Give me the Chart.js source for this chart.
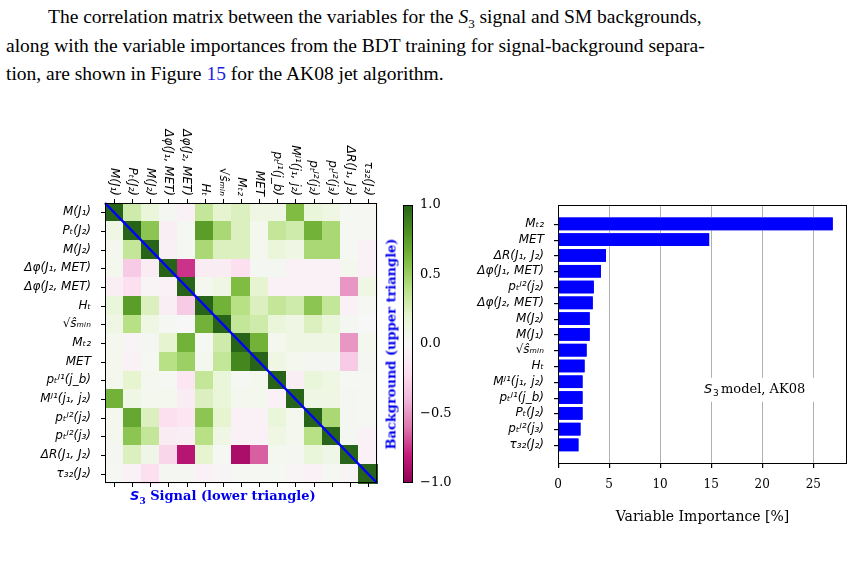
<!DOCTYPE html>
<html><head><meta charset="utf-8">
<script src="https://cdn.jsdelivr.net/npm/chart.js@4"></script>
<style>
body{margin:0;width:868px;height:587px;background:#fff;position:relative;overflow:hidden;font-family:"Liberation Serif",serif;}
.p{position:absolute;left:6px;font-size:19.5px;color:#000;white-space:nowrap;}
canvas{position:absolute;}
.lab{position:absolute;color:#0000ee;font-family:"DejaVu Serif",serif;font-weight:bold;font-size:13px;white-space:nowrap;}
#frame{position:absolute;border:1px solid #000;box-sizing:border-box;pointer-events:none;}
</style></head><body>
<div class="p" style="top:6px;left:48px">The correlation matrix between the variables for the <i>S</i><sub style="font-size:13px">3</sub> signal and SM backgrounds,</div>
<div class="p" style="top:35px">along with the variable importances from the BDT training for signal-background separa-</div>
<div class="p" style="top:63px">tion, are shown in Figure <span style="color:#2222dd">15</span> for the AK08 jet algorithm.</div>
<canvas id="hm" width="390" height="400" style="left:0;top:110px;width:390px;height:400px"></canvas>
<canvas id="cb" width="60" height="400" style="left:395px;top:110px;width:60px;height:400px"></canvas>
<canvas id="bar" width="413" height="330" style="left:455px;top:200px;width:413px;height:330px"></canvas>
<div id="frame"></div>
<div class="lab" style="left:130px;top:488px"><i style="font-family:'DejaVu Sans'">S</i><sub style="font-size:9px">3</sub> Signal (lower triangle)</div>
<div class="lab" style="left:391px;top:344px;transform:translate(-50%,-50%) rotate(-90deg)">Background (upper triangle)</div>
<script>
const varLabels=["M(J₁)","Pₜ(J₂)","M(J₂)","Δφ(J₁, MET)","Δφ(J₂, MET)","Hₜ","√ŝₘᵢₙ","Mₜ₂","MET","pₜᴶ¹(j_b)","Mᴶ¹(j₁, j₂)","pₜᴶ²(j₂)","pₜᴶ²(j₃)","ΔR(J₁, J₂)","τ₃₂(J₂)"];
const corr=[
[1,.3,.15,.03,-.05,.35,.2,.25,.1,.1,.6,.15,.1,.02,.02],
[.1,1,.55,-.08,.02,.75,.45,.25,.05,.35,.3,.65,.45,.02,.02],
[.05,.35,1,-.06,.02,.45,.25,.25,.05,.15,.1,.45,.45,.02,-.05],
[.05,-.3,-.1,1,-.75,-.1,-.1,-.2,.03,.03,-.05,-.05,-.05,.05,-.05],
[-.08,-.2,-.03,-.05,1,.05,.1,.6,.2,-.05,-.05,-.05,-.05,-.5,.1],
[.15,.75,.25,-.08,-.3,1,.65,.4,.25,.35,.3,.55,.35,-.05,.02],
[.1,.4,.1,.02,0,.65,1,.35,.3,.15,.1,.25,.15,.03,0],
[.05,-.03,.03,.2,.65,.02,.3,1,.65,.05,.1,.1,.1,-.5,.05],
[.05,-.05,.02,.4,.5,.05,.35,.85,1,.1,.05,.03,.03,-.3,.03],
[.05,.2,.05,.02,-.15,.35,.15,.02,.05,1,-.08,.15,.1,.02,.02],
[.65,.1,.05,.05,-.1,.25,.15,.05,.05,-.05,1,.1,.1,.03,.02],
[.05,.7,.25,-.2,-.15,.55,.2,-.05,-.05,.15,.05,1,.45,.03,.02],
[.05,.55,.35,-.1,-.08,.4,.1,-.05,-.05,.1,.05,.4,1,.03,-.05],
[.03,.25,.08,-.25,-.85,.2,.02,-.9,-.65,.05,.03,.15,.08,1,-.05],
[.02,-.05,-.2,.03,.03,-.05,-.03,.02,.02,.02,-.03,-.05,.02,-.03,1]];
const impLabels=["Mₜ₂","MET","ΔR(J₁, J₂)","Δφ(J₁, MET)","pₜᴶ²(j₂)","Δφ(J₂, MET)","M(J₂)","M(J₁)","√ŝₘᵢₙ","Hₜ","Mᴶ¹(j₁, j₂)","pₜᴶ¹(j_b)","Pₜ(J₂)","pₜᴶ²(j₃)","τ₃₂(J₂)"];
const impValues=[26.9,14.8,4.7,4.2,3.5,3.4,3.1,3.1,2.8,2.6,2.4,2.4,2.4,2.2,2.0];
const impTicks=[0,5,10,15,20,25];
const cbTicks=[-1,-0.5,0,0.5,1];

const stops=["#8e0152","#c51b7d","#de77ae","#f1b6da","#fde0ef","#f7f7f7","#e6f5d0","#b8e186","#7fbc41","#4d9221","#276419"];
function hex(h){return [1,3,5].map(i=>parseInt(h.substr(i,2),16));}
function cmap(v){let t=(v+1)/2*10;t=Math.max(0,Math.min(10,t));const i=Math.min(9,Math.floor(t)),f=t-i;const a=hex(stops[i]),b=hex(stops[i+1]);return `rgb(${a.map((x,k)=>Math.round(x+(b[k]-x)*f)).join(',')})`;}
Chart.defaults.animation=false;Chart.defaults.devicePixelRatio=1;
const pts=[];corr.forEach((r,i)=>r.forEach((v,j)=>pts.push({x:j,y:i,v})));
const hmPlugin={id:'hm',beforeDatasetsDraw(ch){const c=ch.ctx,x=ch.scales.x,y=ch.scales.y;
 pts.forEach(p=>{const x0=x.getPixelForValue(p.x-0.5),x1=x.getPixelForValue(p.x+0.5),y0=y.getPixelForValue(p.y-0.5),y1=y.getPixelForValue(p.y+0.5);c.fillStyle=cmap(p.v);c.fillRect(Math.floor(x0),Math.floor(y0),Math.ceil(x1-x0)+1,Math.ceil(y1-y0)+1);});
 c.save();c.strokeStyle='#0000ff';c.lineWidth=2.5;c.beginPath();c.moveTo(x.getPixelForValue(-0.5),y.getPixelForValue(-0.5));c.lineTo(x.getPixelForValue(14.5),y.getPixelForValue(14.5));c.stroke();c.restore();},
 afterDraw(ch){const c=ch.ctx,x=ch.scales.x,y=ch.scales.y,a=ch.chartArea;c.save();c.fillStyle='#000';c.font='italic 12px "DejaVu Sans"';c.textBaseline='middle';c.textAlign='right';
 varLabels.forEach((l,i)=>{c.save();c.translate(x.getPixelForValue(i),a.top-7);c.rotate(Math.PI/2);c.fillText(l,0,0);c.restore();});
 c.strokeStyle='#000';c.lineWidth=1;c.strokeRect(a.left+0.5,a.top+0.5,a.width-1,a.height-1);
 for(let i=0;i<15;i++){const px=Math.round(x.getPixelForValue(i))+0.5,py=Math.round(y.getPixelForValue(i))+0.5;c.beginPath();c.moveTo(px,a.top);c.lineTo(px,a.top-4);c.moveTo(px,a.bottom);c.lineTo(px,a.bottom+4);c.moveTo(a.left,py);c.lineTo(a.left-4,py);c.stroke();}
 c.restore();}};
new Chart(document.getElementById('hm'),{type:'scatter',data:{datasets:[{data:pts,pointRadius:0}]},plugins:[hmPlugin],
 options:{responsive:false,layout:{padding:{left:0,right:13,top:93,bottom:27}},plugins:{legend:{display:false},tooltip:{enabled:false}},
 scales:{x:{type:'linear',min:-0.5,max:14.5,grid:{display:false},border:{display:false},ticks:{display:false},afterFit(s){s.height=0;}},
 y:{type:'linear',min:-0.5,max:14.5,reverse:true,grid:{display:false,drawTicks:true},border:{display:false},afterBuildTicks(s){s.ticks=varLabels.map((_,i)=>({value:i}));},
  ticks:{autoSkip:false,padding:6,color:'#000',font:{family:'DejaVu Sans',size:12,style:'italic'},callback:(v)=>varLabels[v]},afterFit(s){s.width=105;}}}}});

const cbPlugin={id:'cb',beforeDatasetsDraw(ch){const c=ch.ctx,a=ch.chartArea,y=ch.scales.y;const g=c.createLinearGradient(0,y.getPixelForValue(-1),0,y.getPixelForValue(1));stops.forEach((s,i)=>g.addColorStop(i/10,s));c.fillStyle=g;c.fillRect(a.left,a.top,a.width,a.height);c.strokeStyle='#000';c.lineWidth=1;c.strokeRect(a.left+0.5,a.top+0.5,a.width-1,a.height-1);}};
new Chart(document.getElementById('cb'),{type:'scatter',data:{datasets:[{data:[]}]},plugins:[cbPlugin],
 options:{responsive:false,layout:{padding:{left:8,top:95,bottom:27,right:0}},plugins:{legend:{display:false}},
 scales:{x:{display:false},y:{position:'right',min:-1,max:1,afterBuildTicks(s){s.ticks=cbTicks.map(v=>({value:v}));},grid:{display:false,drawTicks:true,tickLength:4,tickColor:'#000'},border:{display:false},
 ticks:{color:'#000',padding:3,font:{family:'DejaVu Serif',size:13},callback:v=>(v<0?'−':'')+Math.abs(v).toFixed(1)},afterFit(s){s.width=42;}}}}});
const EXT=11;
const framePlugin={id:'impFrame',afterDraw(ch){const c=ch.ctx,a=ch.chartArea,x=ch.scales.x,y=ch.scales.y;
 const L=Math.round(a.left),R=Math.round(a.right),T=Math.round(a.top)-EXT,B=Math.round(a.bottom)+EXT;
 c.save();c.fillStyle='#b0b0b0';
 impTicks.forEach(v=>{const px=Math.round(x.getPixelForValue(v));if(v>0)c.fillRect(px,T,1,B-T);});
 c.fillStyle='#0000ff';ch.getDatasetMeta(0).data.forEach(b=>{c.fillRect(b.base,b.y-b.height/2,b.x-b.base,b.height);});
 c.fillStyle='#000000';
 impTicks.forEach(v=>{const px=Math.round(x.getPixelForValue(v));c.fillRect(px,B,1.2,4);});
 impLabels.forEach((_,i)=>{const py=Math.round(y.getPixelForValue(i));c.fillRect(L-4,py,4,1.2);});
 c.fillStyle='#fff';c.fillRect(a.right-148,a.bottom-75,128,24);c.fillStyle='#000';c.textBaseline='middle';c.textAlign='left';
 c.font='italic 13px "DejaVu Sans"';c.fillText('S',a.right-143,a.bottom-63);c.font='9px "DejaVu Sans"';c.fillText('3',a.right-134,a.bottom-59);c.font='13px "DejaVu Serif"';c.fillText('model, AK08',a.right-126,a.bottom-63);c.restore();
 const f=document.getElementById('frame');f.style.left=(455+L)+'px';f.style.top=(200+T)+'px';f.style.width=(R-L)+'px';f.style.height=(B-T)+'px';}};
new Chart(document.getElementById('bar'),{type:'bar',data:{labels:impLabels,datasets:[{data:impValues,backgroundColor:'#0000ff',barPercentage:0.8,categoryPercentage:1}]},plugins:[framePlugin],
 options:{indexAxis:'y',responsive:false,layout:{padding:{left:0,right:21,top:16,bottom:0}},plugins:{legend:{display:false},tooltip:{enabled:false}},
 scales:{x:{min:0,max:28.3,afterBuildTicks(s){s.ticks=impTicks.map(v=>({value:v}));},grid:{display:false},border:{display:false},
  ticks:{color:'#000',font:{family:'DejaVu Serif',size:12},padding:17},title:{display:true,text:'Variable Importance [%]',color:'#000',font:{family:'DejaVu Serif',size:14},padding:{top:0}}},
 y:{grid:{display:false},border:{display:false},ticks:{autoSkip:false,color:'#000',padding:6,font:{family:'DejaVu Sans',size:12,style:'italic'}},afterFit(s){s.width=103;}}}}});
</script>
</body></html>
